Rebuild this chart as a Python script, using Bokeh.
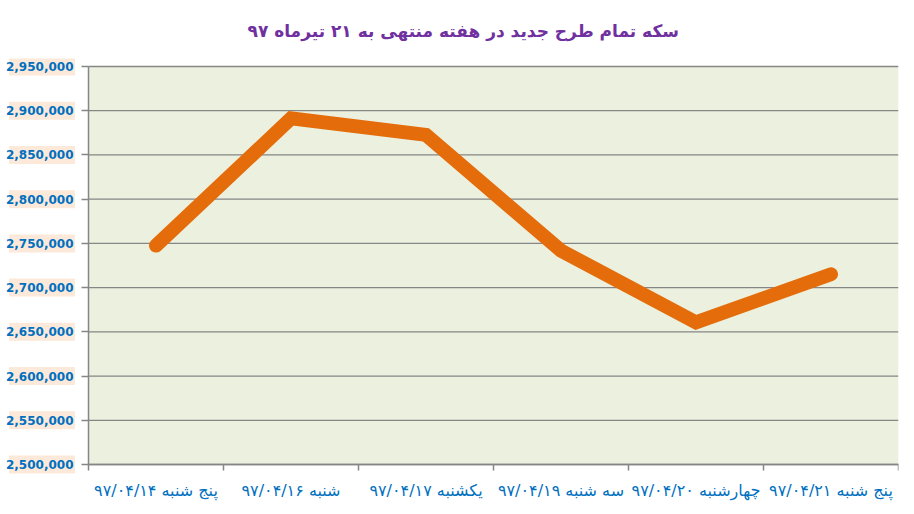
from bokeh.plotting import figure
from bokeh.models import FixedTicker, Range1d, ColumnDataSource, NumeralTickFormatter
from bokeh.embed import file_html
from bokeh.resources import INLINE

days = ["پنج شنبه ۹۷/۰۴/۱۴", "شنبه ۹۷/۰۴/۱۶", "یکشنبه ۹۷/۰۴/۱۷",
        "سه شنبه ۹۷/۰۴/۱۹", "چهارشنبه ۹۷/۰۴/۲۰", "پنج شنبه ۹۷/۰۴/۲۱"]
prices = [2747500, 2891300, 2872700, 2741800, 2660600, 2715100]
y_ticks = [2500000, 2550000, 2600000, 2650000, 2700000, 2750000,
           2800000, 2850000, 2900000, 2950000]
title_text = "سکه تمام طرح جدید در هفته منتهی به ۲۱ تیرماه ۹۷"

n = len(days)
pos = [i + 0.5 for i in range(n)]
source = ColumnDataSource(dict(x=pos, y=prices))

# the frame covers the whole canvas below the title: the left strip holds the
# y labels and the bottom strip the day labels, so nothing gets clipped
unit = 810 / n
left = -88 / unit
ymin, ymax = y_ticks[0], y_ticks[-1]
k = (ymax - ymin) / 398
p = figure(width=906, height=510, output_backend="svg", toolbar_location=None,
           x_range=Range1d(left, n), y_range=Range1d(ymin - 46 * k, ymax + 8 * k),
           min_border_left=0, min_border_right=8, min_border_top=58, min_border_bottom=0,
           title=title_text)
p.background_fill_color = "white"
p.border_fill_color = "white"
p.outline_line_color = None

p.title.align = "left"
p.title.offset = 247
p.title.text_color = "#7030A0"
p.title.text_font = "DejaVu Sans"
p.title.text_font_size = "17px"
p.title.text_font_style = "bold"
p.title.standoff = 36

# plot area
p.quad(left=0, right=n, bottom=ymin, top=ymax,
       fill_color="#EBF0DF", line_color=None)
p.segment(x0=[0] * len(y_ticks), x1=[n] * len(y_ticks), y0=y_ticks, y1=y_ticks,
          line_color="#868686", line_width=1.3)
p.grid.grid_line_color = None

# peach boxes behind the y labels
p.rect(x=[(41.5 - 88) / unit] * len(y_ticks), y=y_ticks, width=66, height=18,
       width_units="screen", height_units="screen",
       fill_color="#FDE9D9", line_color=None)

p.line(x="x", y="y", source=source, line_color="#E46C0A", line_width=14,
       line_cap="round", line_join="miter")

p.yaxis.fixed_location = 0
p.yaxis.bounds = (ymin, ymax)
p.yaxis.ticker = FixedTicker(ticks=y_ticks)
p.yaxis.formatter = NumeralTickFormatter(format="0,0")
p.yaxis.minor_tick_line_color = None
p.yaxis.major_label_text_color = "#0070C0"
p.yaxis.major_label_text_font = "DejaVu Sans"
p.yaxis.major_label_text_font_size = "12px"
p.yaxis.major_label_text_font_style = "bold"
p.yaxis.major_label_standoff = 8
p.yaxis.major_tick_line_color = "#868686"
p.yaxis.major_tick_line_width = 1.5

p.xaxis.fixed_location = ymin
p.xaxis.bounds = (0, n)
p.xaxis.ticker = FixedTicker(ticks=pos, minor_ticks=list(range(n + 1)))
p.xaxis.major_label_overrides = {x: d for x, d in zip(pos, days)}
p.xaxis.major_label_text_color = "#0070C0"
p.xaxis.major_label_text_font = "DejaVu Sans"
p.xaxis.major_label_text_font_size = "16px"
p.xaxis.major_label_standoff = 9
p.xaxis.major_tick_line_color = None
p.xaxis.minor_tick_in = 0
p.xaxis.minor_tick_out = 6
p.xaxis.minor_tick_line_color = "#868686"
p.xaxis.minor_tick_line_width = 1.5

for ax in (p.xaxis, p.yaxis):
    ax.axis_line_color = "#868686"
    ax.axis_line_width = 1.5
    ax.major_tick_in = 0
    ax.major_tick_out = 7

open("out.html", "w").write(file_html(p, INLINE))
